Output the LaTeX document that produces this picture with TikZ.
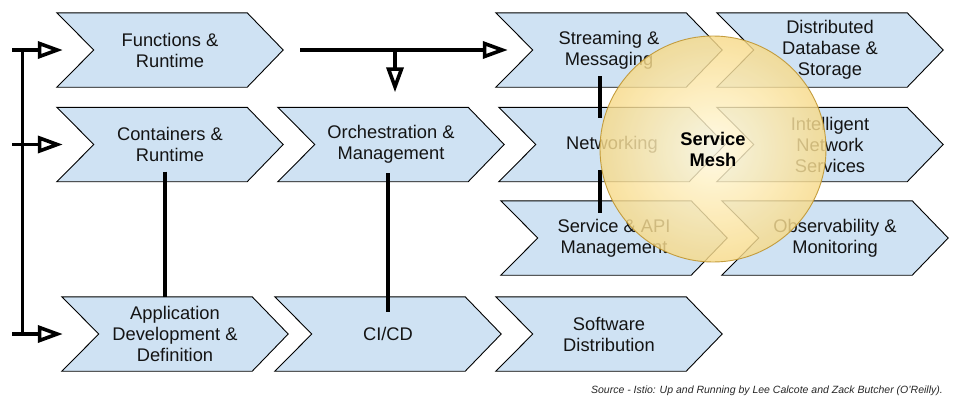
\documentclass[tikz,border=0pt]{standalone}
\usepackage{fontspec}
\setmainfont{Liberation Sans}
\usetikzlibrary{arrows.meta,backgrounds}
\definecolor{chevblue}{HTML}{CFE2F3}
\definecolor{meshborder}{HTML}{BF9530}
\pgfdeclareradialshading{meshshade}{\pgfpoint{0bp}{0bp}}{rgb(0bp)=(1,0.975,0.88); rgb(8bp)=(0.995,0.94,0.76); rgb(28bp)=(0.965,0.84,0.50); rgb(50bp)=(0.94,0.76,0.30)}
\newcommand\mychev[1]{\path[chevpath] (#1.north west) -- ([xshift=-36pt]#1.north east) -- (#1.east) -- ([xshift=-36pt]#1.south east) -- (#1.south west) -- ([xshift=37pt]#1.west) -- cycle;}
\tikzset{
  chev/.style={rectangle, minimum width=226pt, minimum height=74pt, inner sep=0pt, align=center,
    font=\fontsize{18.3}{21}\selectfont, text=black!92},
  chevpath/.style={fill=chevblue, draw=black, line width=0.9pt, line join=miter},
  conn/.style={line width=3.5pt},
  arr/.style={conn, -{Triangle[open, length=25pt, width=17pt, line width=3.6pt]}},
}
\begin{document}
\begin{tikzpicture}[x=1pt, y=-1pt]
\useasboundingbox (0,0) rectangle (957,410);
\node[chev] (fn) at (170,50) {Functions \&\\Runtime};
\node[chev] (ct) at (170,144.5) {Containers \&\\Runtime};
\node[chev] (orch) at (391,144.5) {Orchestration \&\\Management};
\node[chev] (strm) at (609,50) {Streaming \&\\Messaging};
\node[chev] (dist) at (830,50) {Distributed\\Database \&\\Storage};
\node[chev] (net) at (612,144.5) {Networking};
\node[chev] (intel) at (830,144.5) {Intelligent\\Network\\Services};
\node[chev] (sapi) at (614,238) {Service \& API\\Management};
\node[chev] (obs) at (835,238) {Observability \&\\Monitoring};
\node[chev] (app) at (175,334) {Application\\Development \&\\Definition};
\node[chev] (cicd) at (388,334) {CI/CD};
\node[chev] (sw) at (609,334) {Software\\Distribution};
\begin{pgfonlayer}{background}
\mychev{fn}\mychev{ct}\mychev{orch}\mychev{strm}\mychev{dist}\mychev{net}
\mychev{intel}\mychev{sapi}\mychev{obs}\mychev{app}\mychev{cicd}\mychev{sw}
\end{pgfonlayer}
% left spine
\coordinate (s1) at (22.5,50);
\coordinate (s3) at (22.5,334);
\coordinate (l1) at (12,50);
\coordinate (l2) at (12,144.5);
\coordinate (l3) at (12,334);
\draw[conn] (s1) -- (s3);
\draw[arr] (l1) -- ([xshift=6pt]fn.west);
\draw[arr] (l2) -- ([xshift=6pt]ct.west);
\draw[arr] (l3) -- ([xshift=1pt]app.west);
% top connector
\coordinate (t1) at (300,50);
\coordinate (br) at (395,50);
\draw[arr] (t1) -- ([xshift=12pt]strm.west);
\draw[arr] (br) -- ([xshift=4pt,yshift=15pt]orch.north);
% vertical links
\draw[conn] ([xshift=-5pt,yshift=10pt]ct.south) -- ([xshift=-10pt]app.north);
\draw[conn] ([xshift=-3pt,yshift=8.5pt]orch.south) -- ([yshift=-15pt]cicd.north);
\draw[conn] ([xshift=-9pt,yshift=11pt]strm.south) -- ([xshift=-12pt,yshift=-11pt]net.north);
\draw[conn] ([xshift=-12pt,yshift=12pt]net.south) -- ([xshift=-14pt,yshift=-12pt]sapi.north);
% service mesh
\node[circle, minimum size=226pt, inner sep=0pt, shading=meshshade, fill opacity=0.82, text opacity=1,
  draw=meshborder, draw opacity=0.9, line width=0.9pt, align=center,
  font=\bfseries\fontsize{18.3}{21}\selectfont] (mesh) at (713,149) {Service\\Mesh};
% source
\node[anchor=base east, inner sep=0pt, font=\itshape\fontsize{10.5}{12}\selectfont, text=black!85] (src) at (943,393)
  {Source - Istio: Up and Running by Lee Calcote and Zack Butcher (O’Reilly).};
\end{tikzpicture}
\end{document}
